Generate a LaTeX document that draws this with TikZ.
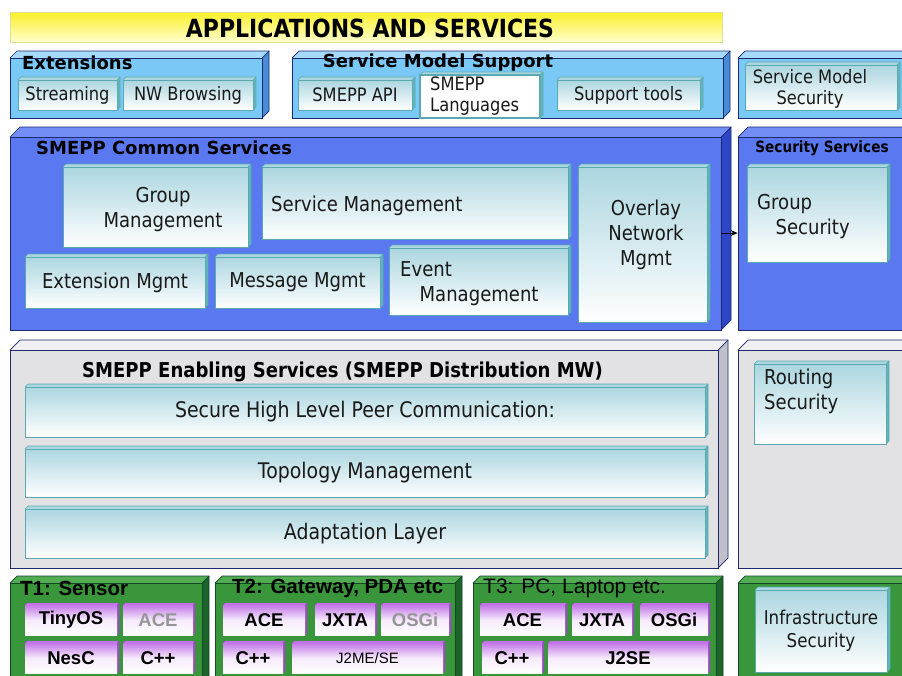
\documentclass[tikz,border=0pt]{standalone}
\usepackage{fontspec}
\setmainfont{DejaVu Sans}
\newfontfamily\narrowfont[FakeStretch=0.88]{DejaVu Sans}
\newfontfamily\arialfont{Liberation Sans}
\usetikzlibrary{arrows.meta}

\definecolor{edgenavy}{RGB}{30,40,110}
\definecolor{skyfront}{RGB}{122,200,245}
\definecolor{skytop}{RGB}{165,218,250}
\definecolor{skyside}{RGB}{70,140,215}
\definecolor{royalfront}{RGB}{90,120,240}
\definecolor{royaltop}{RGB}{115,142,246}
\definecolor{royalside}{RGB}{45,70,200}
\definecolor{ashfront}{RGB}{226,226,228}
\definecolor{ashtop}{RGB}{240,240,242}
\definecolor{ashside}{RGB}{192,192,202}
\definecolor{leaffront}{RGB}{58,150,58}
\definecolor{leaftop}{RGB}{82,172,82}
\definecolor{leafside}{RGB}{28,100,42}
\definecolor{leafedge}{RGB}{20,70,40}
\definecolor{itemtop}{RGB}{172,214,224}
\definecolor{itemedge}{RGB}{88,170,176}
\definecolor{itemside}{RGB}{100,182,188}
\definecolor{plumtop}{RGB}{196,120,232}
\definecolor{plumside}{RGB}{150,80,190}
\definecolor{sunA}{RGB}{250,240,40}
\definecolor{sunB}{RGB}{255,255,205}
\definecolor{sunedge}{RGB}{225,220,150}
\definecolor{dimtext}{RGB}{150,150,150}

\tikzset{
  x=1pt, y=-1pt,
  sky/top/.style={fill=skytop},
  sky/side/.style={fill=skyside},
  sky/edge/.style={draw=edgenavy, line width=0.7pt},
  sky/front/.style={fill=skyfront, draw=edgenavy, line width=0.7pt},
  royal/top/.style={fill=royaltop},
  royal/side/.style={fill=royalside},
  royal/edge/.style={draw=edgenavy, line width=0.7pt},
  royal/front/.style={fill=royalfront, draw=edgenavy, line width=0.7pt},
  ash/top/.style={fill=ashtop},
  ash/side/.style={fill=ashside},
  ash/edge/.style={draw=edgenavy, line width=0.7pt},
  ash/front/.style={fill=ashfront, draw=edgenavy, line width=0.7pt},
  leaf/top/.style={fill=leaftop},
  leaf/side/.style={fill=leafside},
  leaf/edge/.style={draw=leafedge, line width=0.7pt},
  leaf/front/.style={fill=leaffront, draw=leafedge, line width=0.7pt},
  item/top/.style={fill=itemtop},
  item/side/.style={fill=itemside},
  item/edge/.style={draw=itemedge, line width=0.6pt},
  item/front/.style={top color=itemtop, bottom color=white, draw=itemedge, line width=0.8pt},
  plain/top/.style={fill=itemtop},
  plain/side/.style={fill=itemside},
  plain/edge/.style={draw=itemedge, line width=0.6pt},
  plain/front/.style={fill=white, draw=itemedge, line width=1.2pt},
  plum/top/.style={fill=plumtop},
  plum/side/.style={fill=plumside},
  plum/edge/.style={draw=plumside, line width=0.4pt},
  plum/front/.style={top color=plumtop, bottom color=white, middle color=white!85!plumtop, draw=none},
  bigtitle/.style={font=\bfseries\fontsize{18}{20}\selectfont, text=black, inner sep=0},
  itemtext/.style={font=\narrowfont\fontsize{20.5}{25}\selectfont, text=black!90, inner sep=0, align=center},
  layertext/.style={font=\narrowfont\fontsize{21.5}{25}\selectfont, text=black!90, inner sep=0, align=center},
  toptext/.style={font=\narrowfont\fontsize{18.5}{21}\selectfont, text=black!90, inner sep=0, align=center},
  tiertitle/.style={font=\arialfont\bfseries\fontsize{20.5}{22}\selectfont, text=black, inner sep=0},
  platform/.style={font=\arialfont\bfseries\fontsize{18.5}{20}\selectfont, text=black, inner sep=0},
}

% 3D slab: name, x1, y1, x2, y2 (front face), depth, look
\newcommand\layerbox[7]{%
  \fill[#7/top] (#2,#3) -- ({#2+#6},{#3-#6}) -- ({#4+#6},{#3-#6}) -- (#4,#3) -- cycle;
  \fill[#7/side] (#4,#3) -- ({#4+#6},{#3-#6}) -- ({#4+#6},{#5-#6}) -- (#4,#5) -- cycle;
  \draw[#7/edge] (#2,#3) -- ({#2+#6},{#3-#6}) -- ({#4+#6},{#3-#6}) -- ({#4+#6},{#5-#6}) -- (#4,#5);
  \draw[#7/edge] (#4,#3) -- ({#4+#6},{#3-#6});
  \node[#7/front, inner sep=0, minimum width={(#4-#2)*1pt}, minimum height={(#5-#3)*1pt}]
    (#1) at ({(#2+#4)/2},{(#3+#5)/2}) {};%
}

\begin{document}
\begin{tikzpicture}
\clip (0,0) rectangle (902,675);
\fill[white] (0,0) rectangle (902,675);

% ---------------- applications banner
\node[top color=sunA, bottom color=sunB, draw=sunedge, line width=0.6pt,
      minimum width=712pt, minimum height=30pt, inner sep=0] (apps) at (366,27) {};
\node[font=\narrowfont\bfseries\fontsize{25}{27}\selectfont, inner sep=0] (apps-t) at (370,28) {APPLICATIONS AND SERVICES};

% ---------------- extensions / service model support
\layerbox{ext}{10}{58}{262}{118}{7}{sky}
\node[bigtitle, anchor=west] (ext-t) at (22,63) {Extensions};
\layerbox{stream}{18}{80}{117}{110}{3}{item}
\node[toptext] (stream-t) at (stream) {Streaming};
\layerbox{nwb}{123}{80}{253}{110}{3}{item}
\node[toptext] (nwb-t) at (nwb) {NW Browsing};

\layerbox{sms}{292}{58}{723}{118}{7}{sky}
\node[bigtitle] (sms-t) at (438,63) {Service Model Support};
\layerbox{api}{298}{80}{412}{110}{3}{item}
\node[toptext] (api-t) at (api) {SMEPP API};
\layerbox{lang}{420}{75}{540}{118}{3}{plain}
\node[toptext, align=left, anchor=north west] (lang-t) at (430,77) {SMEPP\\Languages};
\layerbox{tools}{557}{80}{700}{110}{3}{item}
\node[toptext] (tools-t) at (tools) {Support tools};

\layerbox{smsec}{738}{58}{912}{118}{7}{sky}
\layerbox{smsecb}{745}{65}{897}{110}{3}{item}
\node[toptext] (smsecb-t) at (810,89) {Service Model\\Security};

% ---------------- common services
\layerbox{common}{10}{137}{721}{330}{10}{royal}
\node[bigtitle, anchor=west] (common-t) at (36,148) {SMEPP Common Services};
\layerbox{grp}{63}{167}{248}{247}{3}{item}
\node[itemtext] (grp-t) at (163,210) {Group\\Management};
\layerbox{svc}{262}{167}{568}{239}{3}{item}
\node[itemtext, anchor=west] (svc-t) at (271,206) {Service Management};
\layerbox{ovl}{578}{167}{707}{322}{3}{item}
\node[itemtext] (ovl-t) at (646,235) {Overlay\\Network\\Mgmt};
\layerbox{extm}{25}{257}{205}{308}{3}{item}
\node[itemtext] (extm-t) at (extm) {Extension Mgmt};
\layerbox{msg}{215}{257}{380}{308}{3}{item}
\node[itemtext] (msg-t) at (msg) {Message Mgmt};
\layerbox{evt}{389}{248}{568}{315}{3}{item}
\node[itemtext, align=left, anchor=north west] (evt-t) at (400,261) {Event\\\hspace*{0.95em}Management};

\layerbox{secsvc}{738}{137}{912}{330}{10}{royal}
\node[font=\narrowfont\bfseries\fontsize{15.5}{17}\selectfont, inner sep=0] (secsvc-t) at (822,148) {Security Services};
\layerbox{grpsec}{747}{167}{887}{262}{3}{item}
\node[itemtext, align=left, anchor=north west] (grpsec-t) at (757,194) {Group\\\hspace*{0.9em}Security};

\coordinate (arrowrow) at (0,233);
\draw[-{Stealth[length=7pt,width=6pt]}, line width=1pt, black]
  (common.east |- arrowrow) -- (secsvc.west |- arrowrow);

% ---------------- enabling services
\layerbox{enab}{10}{350}{718}{568}{10}{ash}
\node[font=\narrowfont\bfseries\fontsize{20.5}{22}\selectfont, inner sep=0, anchor=west] (enab-t) at (82,372) {SMEPP Enabling Services (SMEPP Distribution MW)};
\layerbox{peer}{25}{387}{705}{437}{3}{item}
\node[layertext] (peer-t) at (peer) {Secure High Level Peer Communication:};
\layerbox{topo}{25}{449}{705}{497}{3}{item}
\node[layertext] (topo-t) at (topo) {Topology Management};
\layerbox{adapt}{25}{509}{705}{558}{3}{item}
\node[layertext] (adapt-t) at (adapt) {Adaptation Layer};

\layerbox{route}{738}{350}{912}{568}{10}{ash}
\layerbox{routesec}{754}{364}{886}{444}{3}{item}
\node[itemtext, align=left, anchor=north west] (routesec-t) at (764,369) {Routing\\Security};

% ---------------- platform tiers
\layerbox{tone}{10}{583}{202}{690}{7}{leaf}
\node[tiertitle, anchor=west] (tone-t) at (20,588) {T1: Sensor};
\layerbox{tinyos}{25}{605}{117}{635}{2}{plum}
\node[platform] (tinyos-t) at (tinyos) {TinyOS};
\layerbox{aceone}{123}{605}{193}{635}{2}{plum}
\node[platform, text=dimtext] (aceone-t) at (aceone) {ACE};
\layerbox{nesc}{25}{643}{117}{673}{2}{plum}
\node[platform] (nesc-t) at (nesc) {NesC};
\layerbox{cppone}{123}{643}{193}{673}{2}{plum}
\node[platform] (cppone-t) at (cppone) {C++};

\layerbox{ttwo}{215}{583}{455}{690}{7}{leaf}
\node[tiertitle, anchor=west] (ttwo-t) at (232,588) {T2: Gateway, PDA etc};
\layerbox{acetwo}{223}{605}{305}{635}{2}{plum}
\node[platform] (acetwo-t) at (acetwo) {ACE};
\layerbox{jxtatwo}{315}{605}{375}{635}{2}{plum}
\node[platform] (jxtatwo-t) at (jxtatwo) {JXTA};
\layerbox{osgitwo}{381}{605}{449}{635}{2}{plum}
\node[platform, text=dimtext] (osgitwo-t) at (osgitwo) {OSGi};
\layerbox{cpptwo}{223}{643}{283}{673}{2}{plum}
\node[platform] (cpptwo-t) at (cpptwo) {C++};
\layerbox{jme}{292}{643}{443}{673}{2}{plum}
\node[font=\arialfont\fontsize{15}{17}\selectfont, inner sep=0] (jme-t) at (jme) {J2ME/SE};

\layerbox{tthree}{473}{583}{716}{690}{7}{leaf}
\node[font=\arialfont\fontsize{21}{23}\selectfont, inner sep=0, anchor=west] (tthree-t) at (483,588) {T3: PC, Laptop etc.};
\layerbox{acethree}{480}{605}{565}{635}{2}{plum}
\node[platform] (acethree-t) at (acethree) {ACE};
\layerbox{jxtathree}{572}{605}{632}{635}{2}{plum}
\node[platform] (jxtathree-t) at (jxtathree) {JXTA};
\layerbox{osgithree}{640}{605}{708}{635}{2}{plum}
\node[platform] (osgithree-t) at (osgithree) {OSGi};
\layerbox{cppthree}{482}{643}{542}{673}{2}{plum}
\node[platform] (cppthree-t) at (cppthree) {C++};
\layerbox{jse}{548}{643}{708}{673}{2}{plum}
\node[platform] (jse-t) at (jse) {J2SE};

\layerbox{infra}{738}{583}{912}{690}{7}{leaf}
\layerbox{infrasec}{755}{590}{887}{672}{3}{item}
\node[font=\narrowfont\fontsize{19}{23}\selectfont, inner sep=0, align=center, text=black!90] (infrasec-t) at (infrasec) {Infrastructure\\Security};
\end{tikzpicture}
\end{document}
